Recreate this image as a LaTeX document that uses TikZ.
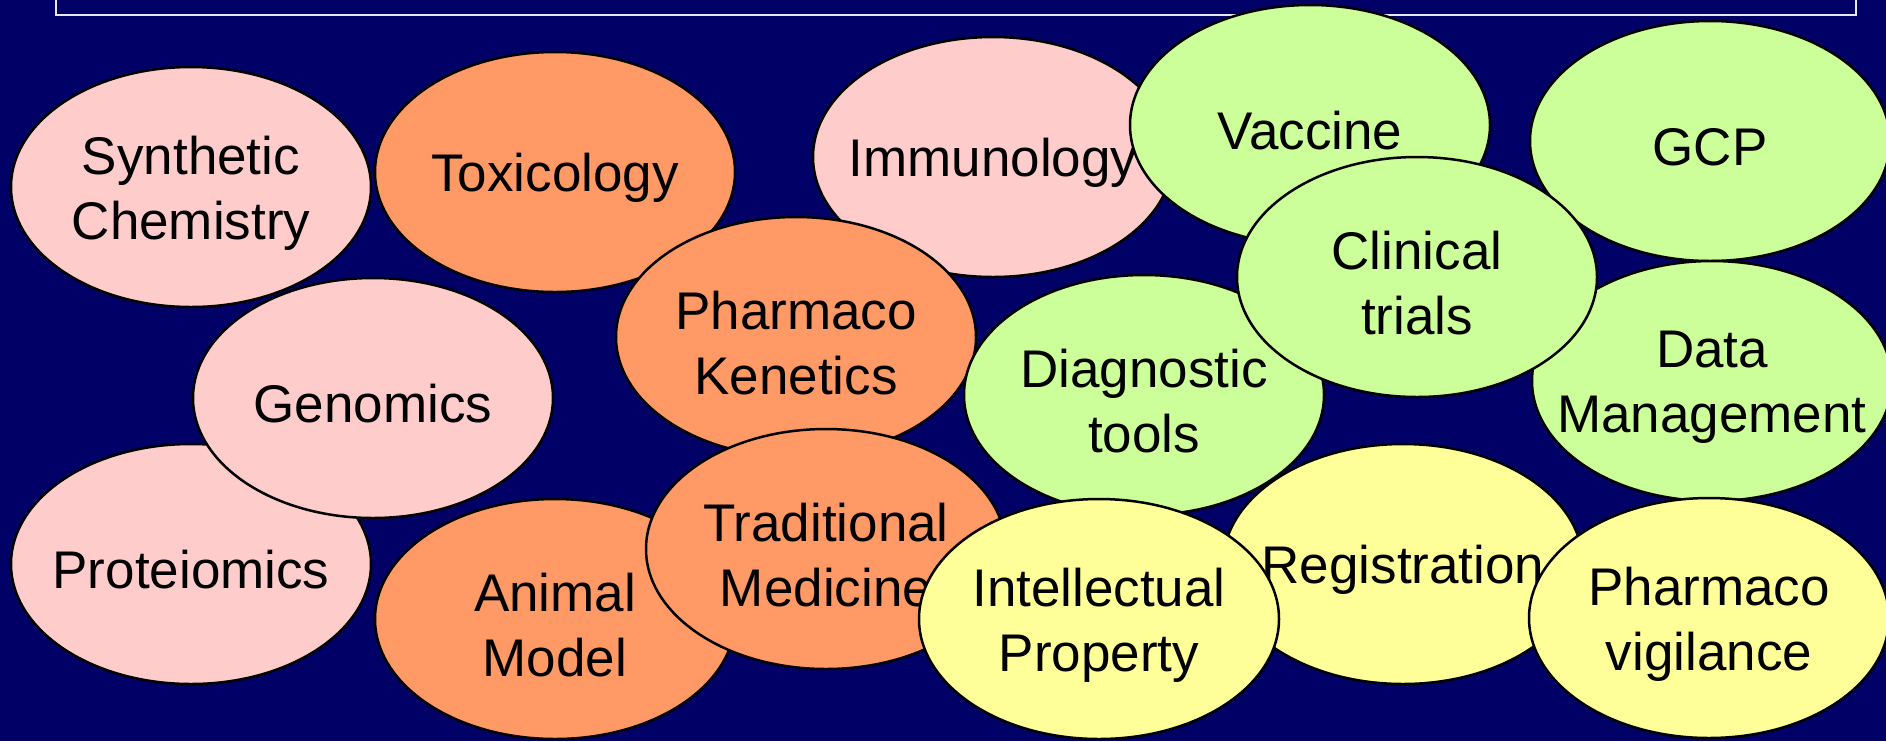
\documentclass[tikz,border=0pt]{standalone}
\usepackage{fontspec}
\setmainfont{Liberation Sans}
\definecolor{bgc}{HTML}{000066}
\definecolor{pinkc}{HTML}{FFCCCC}
\definecolor{orangec}{HTML}{FF9966}
\definecolor{greenc}{HTML}{CCFF99}
\definecolor{yellowc}{HTML}{FFFF99}
\definecolor{framec}{HTML}{E8E8F8}
\begin{document}
\begin{tikzpicture}[x=0.5pt,y=-0.5pt,
  lbl/.style={align=center,font=\fontsize{26.5}{32.5}\selectfont,inner sep=0pt,text=black,yshift=-3pt},
  blobline/.style={draw=black,line width=1.25pt}]
\useasboundingbox (0,0) rectangle (1886,741);
\clip (0,0) rectangle (1886,741);
\fill[bgc] (0,0) rectangle (1886,741);
\draw[framec, line width=1pt] (56,-20) rectangle (1856,15);
\draw[blobline, fill=pinkc] (191,187) ellipse [x radius=90pt, y radius=60pt];
\node[lbl] (synth) at (191,187) {Synthetic\\Chemistry};
\draw[blobline, fill=orangec] (555,172) ellipse [x radius=90pt, y radius=60pt];
\node[lbl] (tox) at (555,172) {Toxicology};
\draw[blobline, fill=pinkc] (993,157) ellipse [x radius=90pt, y radius=60pt];
\node[lbl] (immu) at (993,157) {Immunology};
\draw[blobline, fill=pinkc] (191,564) ellipse [x radius=90pt, y radius=60pt];
\node[lbl] (prot) at (191,564) {Proteiomics};
\draw[blobline, fill=pinkc] (373,398) ellipse [x radius=90pt, y radius=60pt];
\node[lbl] (geno) at (373,398) {Genomics};
\draw[blobline, fill=orangec] (555,619) ellipse [x radius=90pt, y radius=60pt];
\node[lbl] (anim) at (555,619) {Animal\\Model};
\draw[blobline, fill=orangec] (796,337) ellipse [x radius=90pt, y radius=60pt];
\node[lbl] (pk) at (796,337) {Pharmaco\\Kenetics};
\draw[blobline, fill=greenc] (1310,125) ellipse [x radius=90pt, y radius=60pt];
\node[lbl] (vacc) at (1310,125) {Vaccine};
\draw[blobline, fill=greenc] (1710,141) ellipse [x radius=90pt, y radius=60pt];
\node[lbl] (gcp) at (1710,141) {GCP};
\draw[blobline, fill=greenc] (1712,381) ellipse [x radius=90pt, y radius=60pt];
\node[lbl] (dm) at (1712,381) {Data\\Management};
\draw[blobline, fill=greenc] (1144,395) ellipse [x radius=90pt, y radius=60pt];
\node[lbl] (diag) at (1144,395) {Diagnostic\\tools};
\draw[blobline, fill=greenc] (1417,277) ellipse [x radius=90pt, y radius=60pt];
\node[lbl] (clin) at (1417,277) {Clinical\\trials};
\draw[blobline, fill=orangec] (826,549) ellipse [x radius=90pt, y radius=60pt];
\node[lbl] (trad) at (826,549) {Traditional\\Medicine};
\draw[blobline, fill=yellowc] (1403,564) ellipse [x radius=90pt, y radius=60pt];
\node[lbl] (regi) at (1403,564) {Registration};
\draw[blobline, fill=yellowc] (1099,619) ellipse [x radius=90pt, y radius=60pt];
\node[lbl] (intel) at (1099,619) {Intellectual\\Property};
\draw[blobline, fill=yellowc] (1709,618) ellipse [x radius=90pt, y radius=60pt];
\node[lbl] (phv) at (1709,618) {Pharmaco\\vigilance};
\end{tikzpicture}
\end{document}
